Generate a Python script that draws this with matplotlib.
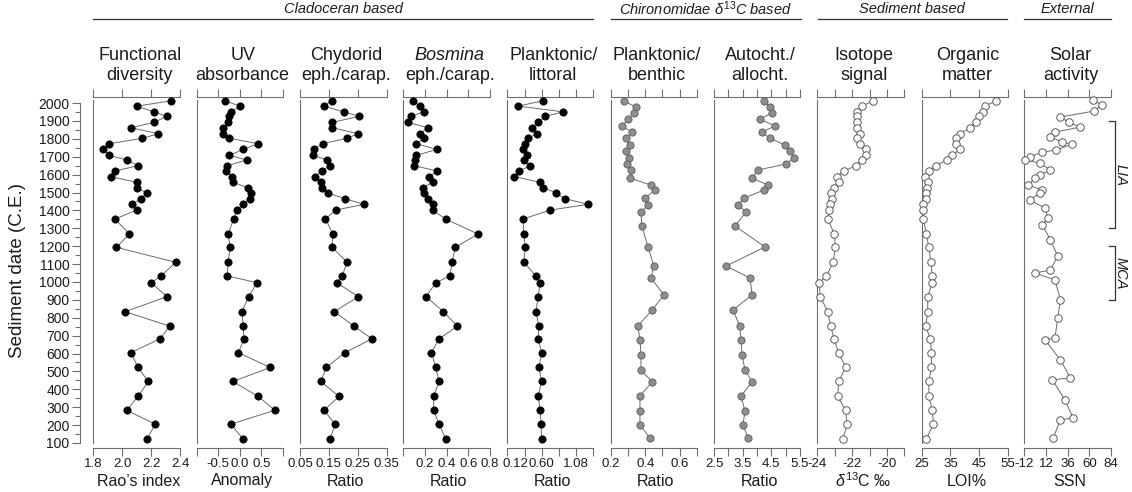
import matplotlib
matplotlib.use('Agg')
import matplotlib.pyplot as plt
from matplotlib.lines import Line2D
import matplotlib.transforms as mtransforms

plt.rcParams['font.family'] = ['Liberation Sans', 'DejaVu Sans']
plt.rcParams['mathtext.fontset'] = 'custom'
plt.rcParams['mathtext.rm'] = 'Liberation Sans'
plt.rcParams['mathtext.it'] = 'Liberation Sans:italic'
plt.rcParams['mathtext.bf'] = 'Liberation Sans:bold'

# ---------------- data ----------------
clad_years = [2013, 1983, 1951, 1926, 1892, 1862, 1829, 1803, 1773, 1741, 1708, 1682, 1650,
              1621, 1589, 1557, 1527, 1498, 1466, 1434, 1402, 1352, 1268, 1194, 1110, 1034,
              996, 918, 834, 753, 682, 605, 522, 444, 360, 283, 205, 123]
func_div = [2.34, 2.10, 2.22, 2.31, 2.22, 2.06, 2.25, 2.14, 1.91, 1.87, 1.91, 2.03, 2.11,
            1.95, 1.92, 2.10, 2.10, 2.17, 2.13, 2.07, 2.10, 1.95, 2.05, 1.96, 2.37, 2.27,
            2.20, 2.31, 2.02, 2.33, 2.26, 2.06, 2.11, 2.18, 2.11, 2.03, 2.23, 2.17]
uv_abs = [-0.35, 0.01, -0.21, -0.26, -0.27, -0.38, -0.40, -0.24, 0.43, 0.08, -0.24, 0.16, -0.29,
          -0.32, -0.19, -0.16, 0.19, 0.26, 0.24, 0.07, -0.06, -0.14, -0.27, -0.22, -0.27, -0.29,
          0.40, 0.21, 0.05, 0.08, 0.10, -0.03, 0.71, -0.16, 0.43, 0.82, -0.21, 0.08]
chydorid = [0.161, 0.133, 0.201, 0.255, 0.161, 0.162, 0.251, 0.213, 0.128, 0.097, 0.094, 0.144, 0.153,
            0.125, 0.102, 0.124, 0.126, 0.146, 0.205, 0.271, 0.173, 0.138, 0.164, 0.161, 0.213, 0.196,
            0.177, 0.252, 0.169, 0.237, 0.299, 0.205, 0.141, 0.122, 0.185, 0.133, 0.172, 0.154]
bosmina = [0.09, 0.15, 0.19, 0.07, 0.04, 0.23, 0.15, 0.19, 0.12, 0.31, 0.12, 0.11, 0.10,
           0.31, 0.24, 0.27, 0.18, 0.19, 0.23, 0.27, 0.27, 0.39, 0.69, 0.48, 0.45, 0.43,
           0.30, 0.21, 0.37, 0.50, 0.33, 0.26, 0.30, 0.33, 0.28, 0.28, 0.33, 0.39]
plank_litt = [0.62, 0.27, 0.90, 0.65, 0.55, 0.46, 0.53, 0.41, 0.37, 0.34, 0.39, 0.35, 0.44,
              0.29, 0.22, 0.58, 0.62, 0.80, 0.92, 1.25, 0.72, 0.34, 0.35, 0.37, 0.35, 0.52,
              0.58, 0.55, 0.52, 0.56, 0.55, 0.60, 0.56, 0.60, 0.55, 0.58, 0.59, 0.60]

chir_years = [2011, 1978, 1944, 1911, 1872, 1838, 1804, 1765, 1732, 1693, 1659, 1626, 1581,
              1542, 1514, 1469, 1430, 1391, 1313, 1196, 1089, 1022, 927, 844, 754, 676,
              592, 508, 441, 363, 279, 201, 128]
plank_benth = [0.276, 0.346, 0.334, 0.300, 0.264, 0.322, 0.288, 0.310, 0.288, 0.305, 0.293, 0.317, 0.310,
               0.433, 0.457, 0.398, 0.416, 0.375, 0.380, 0.416, 0.450, 0.433, 0.510, 0.440, 0.357, 0.369,
               0.375, 0.375, 0.440, 0.369, 0.369, 0.369, 0.427]
autoch = [4.24, 4.45, 4.52, 4.10, 4.63, 4.17, 4.45, 4.98, 5.15, 5.29, 5.00, 4.03, 3.83,
          4.38, 4.24, 3.55, 3.34, 3.62, 3.23, 4.28, 2.92, 3.76, 3.83, 3.16, 3.40, 3.44,
          3.48, 3.58, 3.83, 3.44, 3.58, 3.51, 3.69]

sed_years = clad_years
isotope = [-20.80, -21.41, -21.72, -21.72, -21.72, -21.72, -21.53, -21.72, -21.53, -21.18, -21.18, -21.45, -21.78,
           -22.45, -22.89, -22.77, -23.02, -23.21, -23.17, -23.27, -23.30, -23.40, -23.02, -22.97, -23.08, -23.48,
           -23.89, -23.83, -23.40, -23.23, -23.04, -22.77, -22.37, -22.77, -22.83, -22.37, -22.29, -22.52]
loi = [51.0, 47.0, 46.5, 45.1, 43.8, 41.8, 38.4, 36.9, 37.0, 38.3, 35.6, 33.8, 29.9,
       27.4, 26.3, 27.1, 27.0, 26.4, 26.4, 25.3, 25.4, 25.6, 26.6, 27.5, 28.2, 28.7,
       28.7, 27.1, 27.1, 26.4, 28.0, 28.4, 28.4, 27.5, 27.5, 28.7, 29.1, 26.6]

solar_years = [2017, 1989, 1955, 1922, 1894, 1866, 1838, 1810, 1782, 1771, 1737, 1726, 1698, 1682,
               1665, 1626, 1598, 1581, 1542, 1514, 1497, 1458, 1413, 1358, 1318, 1235, 1145, 1067,
               1050, 1011, 899, 799, 687, 676, 564, 464, 453, 341, 240, 229, 128]
ssn = [64, 74, 65, 28, 37, 50, 22, 17, 30, 41, 23, 8, -6, -11,
       5, 17, 5, 0, -8, 8, 5, -6, 11, 14, 8, 17, 25, 17,
       0, 22, 28, 25, 22, 11, 28, 39, 19, 33, 42, 28, 20]

# ---------------- layout ----------------
W, H = 1132, 492
fig = plt.figure(figsize=(W / 100, H / 100), dpi=100)
fig.patch.set_facecolor('white')

SPINE = '#6e6e6e'
TXT = '#1c1c1c'
LINE = '#6a6a6a'
YLIM = (72, 2034)

styles = {
    'black': dict(mfc='black', mec='black', ms=5.2, mew=0.6),
    'gray': dict(mfc='#8e8e8e', mec='#5a5a5a', ms=5.2, mew=0.6),
    'open': dict(mfc='white', mec='#5a5a5a', ms=5.4, mew=0.7),
}

panels = [
    dict(t1='Functional', t2='diversity', x=func_div, y=clad_years, xlim=(1.8, 2.4),
         ticks=[1.8, 2.0, 2.2, 2.4], labels=['1.8', '2.0', '2.2', '2.4'], xl='Rao’s index', st='black'),
    dict(t1='UV', t2='absorbance', x=uv_abs, y=clad_years, xlim=(-1.0, 1.0),
         ticks=[-1.0, -0.5, 0.0, 0.5, 1.0], labels=['', '-0.5', '0.0', '0.5', ''], xl='Anomaly', st='black'),
    dict(t1='Chydorid', t2='eph./carap.', x=chydorid, y=clad_years, xlim=(0.05, 0.35),
         ticks=[0.05, 0.15, 0.25, 0.35], labels=['0.05', '0.15', '0.25', '0.35'], xl='Ratio', st='black'),
    dict(t1='Bosmina', t2='eph./carap.', x=bosmina, y=clad_years, xlim=(0.0, 0.8),
         ticks=[0.0, 0.2, 0.4, 0.6, 0.8], labels=['', '0.2', '0.4', '0.6', '0.8'], xl='Ratio', st='black',
         italic1=True),
    dict(t1='Planktonic/', t2='littoral', x=plank_litt, y=clad_years, xlim=(0.12, 1.32),
         ticks=[0.12, 0.36, 0.60, 0.84, 1.08, 1.32], labels=['', '', '0.60', '', '1.08', ''], xl='Ratio',
         st='black', extra=[(0.23, '0.12')]),
    dict(t1='Planktonic/', t2='benthic', x=plank_benth, y=chir_years, xlim=(0.2, 0.7),
         ticks=[0.2, 0.3, 0.4, 0.5, 0.6, 0.7], labels=['0.2', '', '0.4', '', '0.6', ''], xl='Ratio', st='gray'),
    dict(t1='Autocht./', t2='allocht.', x=autoch, y=chir_years, xlim=(2.5, 5.5),
         ticks=[2.5, 3.0, 3.5, 4.0, 4.5, 5.0, 5.5], labels=['2.5', '', '3.5', '', '4.5', '', '5.5'], xl='Ratio',
         st='gray'),
    dict(t1='Isotope', t2='signal', x=isotope, y=sed_years, xlim=(-24, -19),
         ticks=[-24, -23, -22, -21, -20, -19], labels=['-24', '', '-22', '', '-20', ''],
         xl=r'$\delta^{13}$C ‰', st='open'),
    dict(t1='Organic', t2='matter', x=loi, y=sed_years, xlim=(25, 55),
         ticks=[25, 35, 45, 55], labels=['25', '35', '45', '55'], xl='LOI%', st='open'),
    dict(t1='Solar', t2='activity', x=ssn, y=solar_years, xlim=(-12, 84),
         ticks=[-12, 12, 36, 60, 84], labels=['-12', '12', '36', '60', '84'], xl='SSN', st='open'),
]

panel_px = [(93.3, 180), (196.7, 282.7), (300, 386.7), (403.3, 490), (507.3, 593.3),
            (611, 696.7), (714, 800), (817.3, 904.3), (921.7, 1007.7), (1024.3, 1111)]
top_px, bot_px = 97, 448
b = 1 - bot_px / H
h = (bot_px - top_px) / H

title_y1, title_y2 = 56, 75
xlabel_y = 481
title_dx, xlabel_dx = 3, 2

axes = []
for p, (x0, x1) in zip(panels, panel_px):
    ax = fig.add_axes([x0 / W, b, (x1 - x0) / W, h])
    ax.set_facecolor('none')
    ax.set_xlim(p['xlim'])
    ax.set_ylim(YLIM)
    ax.plot(p['x'], p['y'], '-', color=LINE, lw=0.7, marker='o', clip_on=False, zorder=3,
            **styles[p['st']])
    ax.spines['right'].set_visible(False)
    for s in ['left', 'top', 'bottom']:
        ax.spines[s].set_color(SPINE)
        ax.spines[s].set_linewidth(0.8)
    ax.spines['left'].set_bounds(100, 2017)
    ax.tick_params(axis='y', left=False, labelleft=False)
    ax.set_xticks(p['ticks'])
    ax.set_xticklabels(p['labels'])
    ax.tick_params(axis='x', which='major', top=True, bottom=True, direction='out', length=6,
                   width=0.8, color=SPINE, labelsize=9.5, pad=1.5, labelcolor=TXT)
    if 'extra' in p:
        ax.set_xticks([v for v, _ in p['extra']], minor=True)
        ax.set_xticklabels([t for _, t in p['extra']], minor=True)
        ax.tick_params(axis='x', which='minor', top=False, bottom=True, length=0,
                       labelsize=9.5, pad=7.5, labelcolor=TXT)
    cx = (x0 + x1) / 2
    fig.text((cx + title_dx) / W, 1 - title_y1 / H, p['t1'], ha='center', va='center', fontsize=13,
             color=TXT, style='italic' if p.get('italic1') else 'normal')
    fig.text((cx + title_dx) / W, 1 - title_y2 / H, p['t2'], ha='center', va='center', fontsize=13,
             color=TXT)
    fig.text((cx + xlabel_dx) / W, 1 - xlabel_y / H, p['xl'], ha='center', va='center', fontsize=11.5,
             color=TXT)
    axes.append(ax)

# main y axis
ax_y = fig.add_axes([80 / W, b, 0.0005, h])
ax_y.set_facecolor('none')
ax_y.set_ylim(YLIM)
for s in ['right', 'top', 'bottom']:
    ax_y.spines[s].set_visible(False)
ax_y.spines['left'].set_color(SPINE)
ax_y.spines['left'].set_linewidth(0.8)
ax_y.spines['left'].set_bounds(100, 2000)
ax_y.set_xticks([])
ax_y.set_yticks(list(range(100, 2001, 100)))
ax_y.set_yticks(list(range(150, 2000, 100)), minor=True)
ax_y.tick_params(axis='y', which='major', length=6, width=0.8, color=SPINE, labelsize=10,
                 labelcolor=TXT, pad=1.5)
ax_y.tick_params(axis='y', which='minor', length=3.5, width=0.8, color=SPINE)
fig.text(18 / W, 1 - 270 / H, 'Sediment date (C.E.)', rotation=90, ha='center', va='center',
         fontsize=13.5, color=TXT)

# group headers
groups = [('Cladoceran based', 93, 593), (r'Chironomidae $\delta^{13}$C based', 611, 800.5),
          ('Sediment based', 817.5, 1007), ('External', 1024.3, 1111)]
for label, gx0, gx1 in groups:
    fig.text((gx0 + gx1) / 2 / W, 1 - 9 / H, label, ha='center', va='center', fontsize=10.5,
             style='italic', color=TXT)
    fig.add_artist(Line2D([gx0 / W, gx1 / W], [1 - 19 / H, 1 - 19 / H], color='#333333', lw=0.9))

# LIA / MCA brackets
axs = axes[-1]
tr = mtransforms.blended_transform_factory(axs.transAxes, axs.transData)
for name, y0, y1 in [('LIA', 1300, 1900), ('MCA', 900, 1200)]:
    axs.add_line(Line2D([0.977, 1.046, 1.046, 0.977], [y1, y1, y0, y0], transform=tr,
                        color='#333333', lw=0.9, clip_on=False))
    axs.text(1.115, (y0 + y1) / 2, name, transform=tr, rotation=-90, ha='center', va='center',
             fontsize=10.5, style='italic', color=TXT, clip_on=False)

fig.savefig('out.png', dpi=100, facecolor='white')
